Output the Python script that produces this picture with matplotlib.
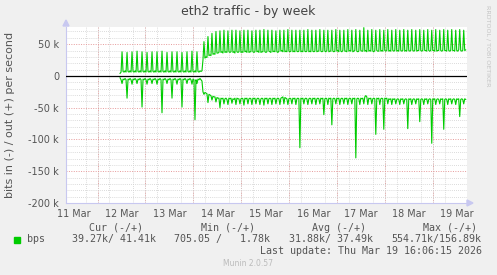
import matplotlib
matplotlib.use('Agg')
import matplotlib.pyplot as plt
from matplotlib.patches import Rectangle, Polygon
import numpy as np

# 30 minute samples, starting 12 Mar ~11:15 (x axis = day of month)
start_day = 12.47
step = 1 / 48

# bits out per second (k)
out_k = [
    4, 6, 38, 7, 6, 8, 6, 37, 7, 6,
    8, 6, 38, 7, 6, 8, 6, 39, 7, 6,
    8, 6, 38, 7, 6, 8, 6, 37, 7, 6,
    8, 6, 38, 7, 6, 8, 6, 38, 7, 6,
    8, 6, 39, 7, 6, 8, 6, 37, 7, 6,
    8, 6, 38, 7, 6, 8, 6, 38, 7, 6,
    8, 6, 37, 7, 6, 8, 6, 38, 7, 6,
    8, 6, 39, 7, 6, 8, 6, 38, 7, 6,
    8, 7, 8,
    25, 54, 28, 30, 29, 62, 32, 33, 32, 67, 34, 35, 34, 70, 36, 36, 37,
    71, 37, 38, 36, 72, 37, 38, 37, 71, 38, 37, 38, 72, 37, 38, 36,
    72, 38, 37, 38, 71, 37, 38, 37, 72, 38, 39, 37, 72, 37, 38, 38,
    71, 38, 37, 38, 72, 38, 39, 37, 72, 37, 38, 38, 73, 38, 37, 38,
    72, 39, 38, 37, 72, 38, 39, 38, 71, 38, 37, 39, 72, 39, 40, 38,
    72, 38, 39, 38, 73, 39, 38, 39, 72, 38, 39, 38, 72, 39, 38, 39,
    72, 38, 39, 38, 72, 39, 38, 39, 73, 38, 39, 38, 72, 39, 38, 39,
    72, 38, 39, 39, 73, 39, 38, 39, 72, 39, 38, 40, 72, 38, 39, 39,
    72, 39, 38, 39, 73, 39, 40, 38, 72, 39, 38, 40, 72, 39, 39, 38,
    73, 39, 40, 39, 72, 38, 39, 40, 73, 39, 38, 39, 72, 40, 39, 39,
    76, 39, 40, 38, 72, 39, 40, 39, 73, 39, 38, 40, 72, 40, 39, 39,
    73, 39, 40, 39, 72, 40, 39, 40, 73, 39, 40, 39, 72, 40, 39, 40,
    73, 39, 40, 39, 72, 40, 39, 40, 73, 39, 40, 39, 72, 40, 39, 40,
    73, 40, 39, 40, 72, 39, 40, 40, 73, 40, 39, 40, 72, 40, 40, 39,
    73, 40, 39, 40, 72, 40, 40, 39, 73, 39, 40, 40, 72, 40, 39, 40,
    73, 40, 40, 39, 72, 40, 39, 40, 73, 40, 40, 39, 72, 40, 39, 41,
    73, 40, 39, 40, 72, 40, 41,
]

# bits in per second (k), drawn below zero
in_k = [
    3, 6, 12, 5, 6, 4, 6, 35, 5, 6,
    4, 6, 13, 5, 6, 4, 6, 12, 5, 6,
    4, 6, 49, 5, 6, 4, 6, 13, 5, 6,
    4, 6, 12, 5, 6, 4, 6, 13, 5, 6,
    4, 6, 58, 5, 6, 4, 6, 12, 5, 6,
    4, 6, 35, 5, 6, 4, 6, 13, 5, 6,
    4, 6, 49, 5, 6, 4, 6, 12, 5, 6,
    4, 6, 13, 5, 6, 69, 6, 12, 5, 6,
    4, 6, 8,
    25, 29, 26, 27, 28, 42, 29, 30, 31, 38, 32, 33, 33, 41, 34, 35, 35,
    50, 35, 36, 35, 44, 36, 35, 37, 45, 35, 36, 35, 43, 36, 37, 35,
    45, 35, 36, 36, 44, 36, 35, 36, 46, 35, 36, 35, 44, 36, 35, 36,
    45, 35, 36, 35, 44, 36, 35, 36, 45, 36, 35, 36, 46, 35, 36, 35,
    44, 36, 35, 36, 45, 35, 36, 35, 44, 36, 35, 36, 45, 35, 34, 33,
    44, 34, 35, 36, 45, 36, 35, 36, 44, 35, 36, 35, 45, 36, 35, 36,
    113, 35, 36, 35, 44, 36, 35, 36, 45, 36, 35, 36, 44, 35, 36, 35,
    45, 36, 35, 36, 44, 35, 36, 35, 61, 36, 35, 36, 45, 35, 36, 35,
    77, 36, 35, 36, 44, 35, 36, 35, 45, 36, 35, 36, 44, 35, 36, 35,
    45, 36, 35, 36, 44, 35, 36, 35, 129, 36, 35, 36, 45, 35, 36, 35,
    44, 33, 31, 33, 45, 35, 36, 35, 44, 36, 35, 36, 92, 35, 36, 35,
    45, 36, 35, 36, 84, 35, 36, 35, 44, 36, 37, 36, 45, 36, 37, 36,
    44, 37, 36, 37, 45, 36, 37, 36, 44, 37, 36, 37, 83, 36, 37, 36,
    45, 37, 36, 37, 44, 36, 37, 36, 72, 37, 36, 37, 45, 36, 37, 36,
    44, 37, 36, 37, 106, 36, 37, 36, 45, 37, 36, 37, 44, 36, 37, 36,
    84, 37, 36, 37, 45, 36, 37, 36, 44, 37, 36, 37, 45, 36, 37, 36,
    64, 37, 36, 37, 44, 36, 37,
]

day_labels = ['11 Mar', '12 Mar', '13 Mar', '14 Mar', '15 Mar',
              '16 Mar', '17 Mar', '18 Mar', '19 Mar']
first_day = 11
y_ticks = [50, 0, -50, -100, -150, -200]

legend_head = ['Cur (-/+)', 'Min (-/+)', 'Avg (-/+)', 'Max (-/+)']
legend_vals = ['39.27k/ 41.41k', '705.05 /   1.78k', '31.88k/ 37.49k', '554.71k/156.89k']

W, H = 497, 275
BG = '#f0f0f0'
TXT = '#555555'
GREEN = '#00cc00'
AXC = '#c8c8f0'

def fx(px):
    return px / W

def fy(py):
    return 1 - py / H

fig = plt.figure(figsize=(W / 100, H / 100), dpi=100, facecolor=BG)
ax = fig.add_axes([fx(66), fy(203), fx(467) - fx(66), fy(27) - fy(203)])
ax.set_facecolor('white')

x = start_day + np.arange(len(out_k)) * step
ax.plot(x, out_k, color=GREEN, lw=0.8, zorder=4)
ax.plot(x, -np.array(in_k), color=GREEN, lw=0.8, zorder=4)
ax.axhline(0, color='black', lw=0.9, zorder=5)

# x: labels at noon, minor grid every 6h, red lines at midnight
ax.set_xticks([first_day + i + 0.5 for i in range(len(day_labels))])
ax.set_xticklabels(day_labels)
ax.set_xticks(np.arange(11, 20.01, 0.25), minor=True)
ax.set_yticks(y_ticks)
ax.set_yticklabels([f'{v} k' if v != 0 else '0' for v in y_ticks])
ax.set_yticks(np.arange(-200, 71, 10), minor=True)

dots = (0, (1, 1.5))
ax.grid(which='minor', color='#cfcfcf', ls=dots, lw=0.6)
ax.grid(which='major', axis='y', color='#e69a9a', ls=dots, lw=0.7)
for i in range(1, len(day_labels)):
    ax.axvline(first_day + i, color='#e69a9a', ls=dots, lw=0.7, zorder=1)

# limits after ticks, set_xticks widens the view otherwise
ax.set_xlim(11.343, 19.705)
ax.set_ylim(-200, 77)

ax.tick_params(which='both', length=0, colors=TXT, labelsize=7)
ax.tick_params(axis='x', pad=4, labelsize=6.9)
ax.tick_params(axis='y', pad=5)
for s in ['top', 'right']:
    ax.spines[s].set_visible(False)
for s in ['left', 'bottom']:
    ax.spines[s].set_color(AXC)
    ax.spines[s].set_linewidth(0.8)

# axis arrows
fig.patches.append(Polygon([[fx(63), fy(26)], [fx(69), fy(26)], [fx(66), fy(20)]],
                           closed=True, color=AXC, transform=fig.transFigure))
fig.patches.append(Polygon([[fx(467), fy(200)], [fx(467), fy(206)], [fx(473), fy(203)]],
                           closed=True, color=AXC, transform=fig.transFigure))

fig.text(fx(248), fy(12), 'eth2 traffic - by week', ha='center', va='center',
         fontsize=9, color='#444444')
fig.text(fx(10.5), fy(115), 'bits in (-) / out (+) per second', rotation=90,
         ha='center', va='center', fontsize=8, color=TXT)
fig.text(fx(488), fy(5), 'RRDTOOL / TOBI OETIKER', rotation=270, ha='center',
         va='top', fontsize=4.6, color='#c4c4c4')

mono = dict(family='DejaVu Sans Mono', fontsize=7.2, color=TXT, va='center')
for head, px in zip(legend_head, [89.3, 201, 312.3, 422.7]):
    fig.text(fx(px), fy(227.7), head, **mono)
fig.patches.append(Rectangle((fx(14), fy(242.5)), fx(5.5), fy(0) - fy(5.5),
                             color=GREEN, transform=fig.transFigure))
fig.text(fx(26.7), fy(239.3), 'bps', **mono)
for val, px in zip(legend_vals, [72.3, 174.3, 289, 391.3]):
    fig.text(fx(px), fy(239.3), val, **mono)
fig.text(fx(482.5), fy(251), 'Last update: Thu Mar 19 16:06:15 2026', ha='right', **mono)
fig.text(fx(248), fy(264), 'Munin 2.0.57', ha='center', va='center',
         fontsize=5.5, color='#bbbbbb')

fig.savefig('out.png', dpi=100, facecolor=BG)
